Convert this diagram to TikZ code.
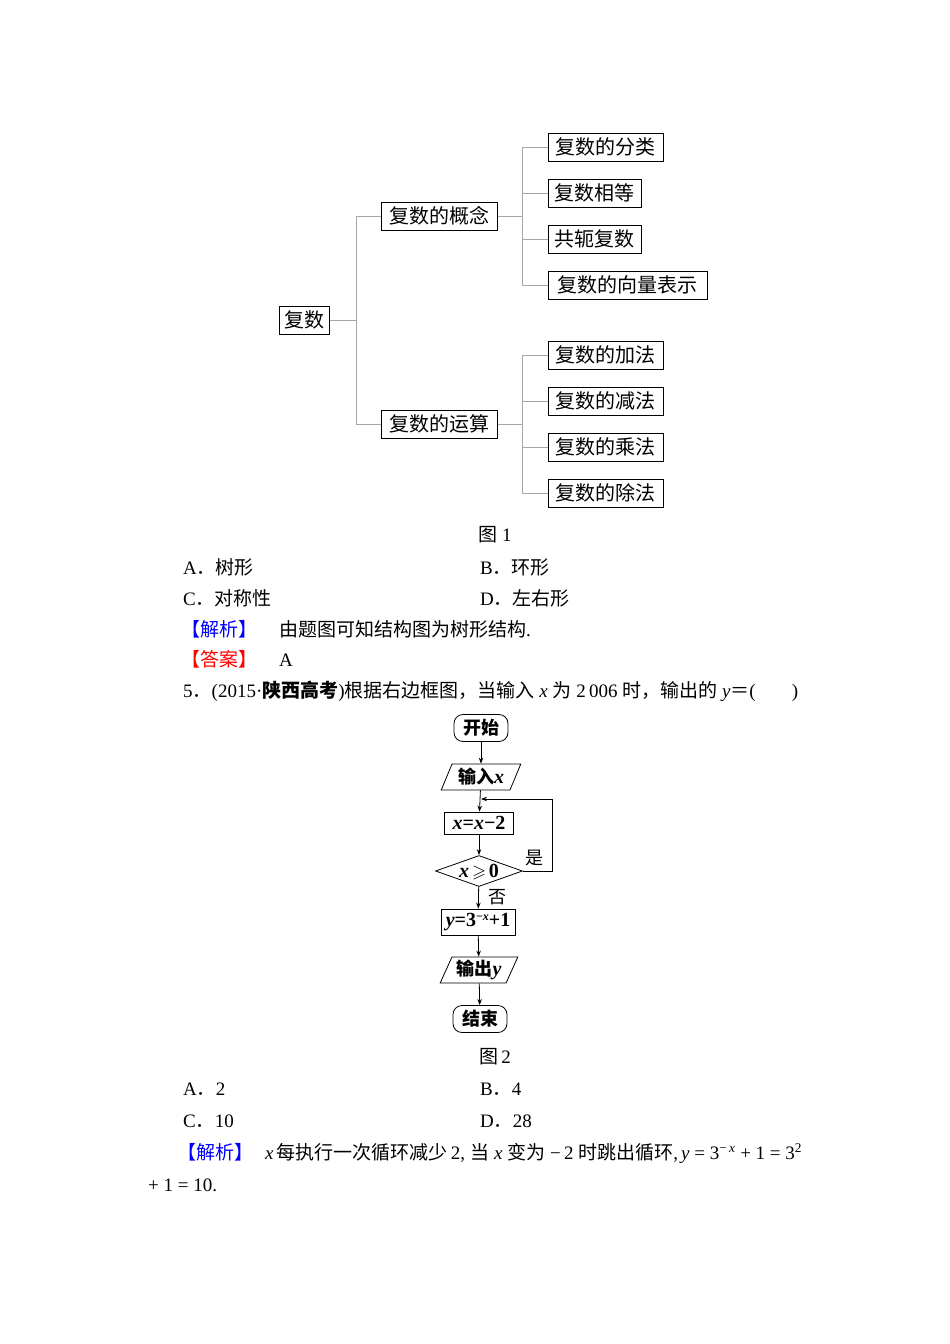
\documentclass[tikz,border=0pt]{standalone}
\usepackage{fontspec}
\usepackage{amssymb}
\setmainfont{Liberation Serif}
\newfontfamily\cjk{Noto Sans CJK SC}
\usetikzlibrary{shapes.geometric,arrows.meta,calc}
\newcommand{\fx}{{\rmfamily\bfseries\itshape\fontsize{20}{20}\selectfont x}}
\newcommand{\fy}{{\rmfamily\bfseries\itshape\fontsize{20}{20}\selectfont y}}
\newcommand{\fr}[1]{{\rmfamily\bfseries\fontsize{20}{20}\selectfont #1}}
\tikzset{
  tbox/.style={draw, line width=0.8pt, font=\cjk\fontsize{20}{20}\selectfont, inner xsep=5pt, inner ysep=2pt, minimum height=28pt, anchor=west},
  conn/.style={draw=black!35, line width=0.8pt},
  txt/.style={font=\fontsize{19}{19}\selectfont, inner sep=0pt, anchor=west},
  fc/.style={draw, line width=0.8pt, font=\cjk\bfseries\fontsize{18}{18}\selectfont, inner sep=1pt},
  rbox/.style={fc, rounded corners=9pt, minimum width=54pt, minimum height=27pt},
  pbox/.style={fc, trapezium, trapezium left angle=65, trapezium right angle=115, trapezium stretches=true, minimum height=26pt, minimum width=80pt},
  sbox/.style={fc, rectangle},
  dbox/.style={fc, diamond, minimum width=87pt, minimum height=31pt, inner sep=0pt},
  arr/.style={-{Stealth[length=6pt,width=4.5pt]}, line width=0.8pt},
  lab/.style={font=\cjk\fontsize{18}{18}\selectfont, inner sep=0pt}
}
\begin{document}
\begin{tikzpicture}[x=1pt,y=-1pt]
\useasboundingbox[fill=white] (0,0) rectangle (950,1344);
% ---- tree ----
\node[tbox, minimum width=50pt, inner xsep=3pt] (root) at (279,320) {复数};
\node[tbox, minimum width=116pt] (c1) at (381,216) {复数的概念};
\node[tbox, minimum width=116pt] (c2) at (381,424) {复数的运算};
\node[tbox, minimum width=115pt] (l1) at (548,147) {复数的分类};
\node[tbox, minimum width=93pt] (l2) at (548,193) {复数相等};
\node[tbox, minimum width=93pt] (l3) at (548,239) {共轭复数};
\node[tbox, minimum width=159pt] (l4) at (548,285) {复数的向量表示};
\node[tbox, minimum width=115pt] (l5) at (548,355) {复数的加法};
\node[tbox, minimum width=115pt] (l6) at (548,401) {复数的减法};
\node[tbox, minimum width=115pt] (l7) at (548,447) {复数的乘法};
\node[tbox, minimum width=115pt] (l8) at (548,493) {复数的除法};
\coordinate (j0) at (356,320);
\coordinate (j1) at (522,216);
\coordinate (j2) at (522,424);
\draw[conn] (root.east) -- (j0);
\draw[conn] (j0) |- (c1.west);
\draw[conn] (j0) |- (c2.west);
\draw[conn] (c1.east) -- (j1);
\foreach \n in {l1,l2,l3,l4} \draw[conn] (j1) |- (\n.west);
\draw[conn] (c2.east) -- (j2);
\foreach \n in {l5,l6,l7,l8} \draw[conn] (j2) |- (\n.west);
% ---- text block 1 ----
\node[txt, anchor=center] (cap1) at (495,535) {{\cjk 图} 1};
\node[txt] (oA) at (183,567) {A{\cjk ．树形}};
\node[txt] (oB) at (480,567) {B{\cjk ．环形}};
\node[txt] (oC) at (183,598) {C{\cjk ．对称性}};
\node[txt] (oD) at (480,598) {D{\cjk ．左右形}};
\node[txt] (jx1) at (181,629) {{\cjk\color{blue}【解析】}\hspace{22pt}{\cjk 由题图可知结构图为树形结构}.};
\node[txt] (da1) at (181,659) {{\cjk\color{red}【答案】}\hspace{22pt}A};
\node[txt] (q5) at (183,691) {5{\cjk ．}(2015·{\cjk\bfseries 陕西高考}){\cjk 根据右边框图，当输入} \textit{x} {\cjk 为}~2\,006~{\cjk 时，输出的} \textit{y}{\cjk ＝}(\hspace{36pt})};
% ---- flowchart ----
\node[rbox] (st) at (481,728) {开始};
\node[pbox] (in) at (481,777) {输入\fx};
\node[sbox, minimum width=69pt, minimum height=22pt] (upd) at (479,823) {\fx\fr{=}\fx\fr{−2}};
\node[dbox] (dec) at (479,871) {\makebox[0pt]{\smash{\raisebox{-0.34em}{\fx$\,\geqslant\,$\fr{0}}}}};
\node[sbox, minimum width=74pt, minimum height=26pt] (calc) at (478,922) {\fy\fr{=3}\raisebox{0.6ex}{\fontsize{12}{12}\selectfont\rmfamily\bfseries −\itshape x}\fr{+1}};
\node[pbox, minimum width=78pt] (out) at (479,970) {输出\fy};
\node[rbox] (en) at (480,1019) {结束};
\coordinate (loopin) at (481,799);
\draw[arr] (st) -- (in);
\draw[arr] (in) -- (upd);
\draw[arr] (upd) -- (dec);
\draw[arr] (dec) -- (calc);
\draw[arr] (calc) -- (out);
\draw[arr] (out) -- (en);
\draw[arr] (dec.east) -- ++(29,0) |- (loopin);
\node[lab] (yes) at (534,858) {是};
\node[lab] (no) at (497,897) {否};
% ---- text block 2 ----
\node[txt, anchor=center] (cap2) at (495,1057) {{\cjk 图}\,2};
\node[txt] (pA) at (183,1089) {A{\cjk ．}2};
\node[txt] (pB) at (480,1089) {B{\cjk ．}4};
\node[txt] (pC) at (183,1121) {C{\cjk ．}10};
\node[txt] (pD) at (480,1121) {D{\cjk ．}28};
\node[txt] (jx2) at (177,1153) {{\cjk\color{blue}【解析】}\hspace{12pt}\textit{x}\,{\cjk 每执行一次循环减少}\,2,\;{\cjk 当}~\textit{x}~{\cjk 变为}~−\,2~{\cjk 时跳出循环},\,\textit{y} = 3\textsuperscript{−\,\textit{x}} + 1 = 3\textsuperscript{2}};
\node[txt] (jx3) at (148,1185) {+ 1 = 10.};
\end{tikzpicture}
\end{document}
